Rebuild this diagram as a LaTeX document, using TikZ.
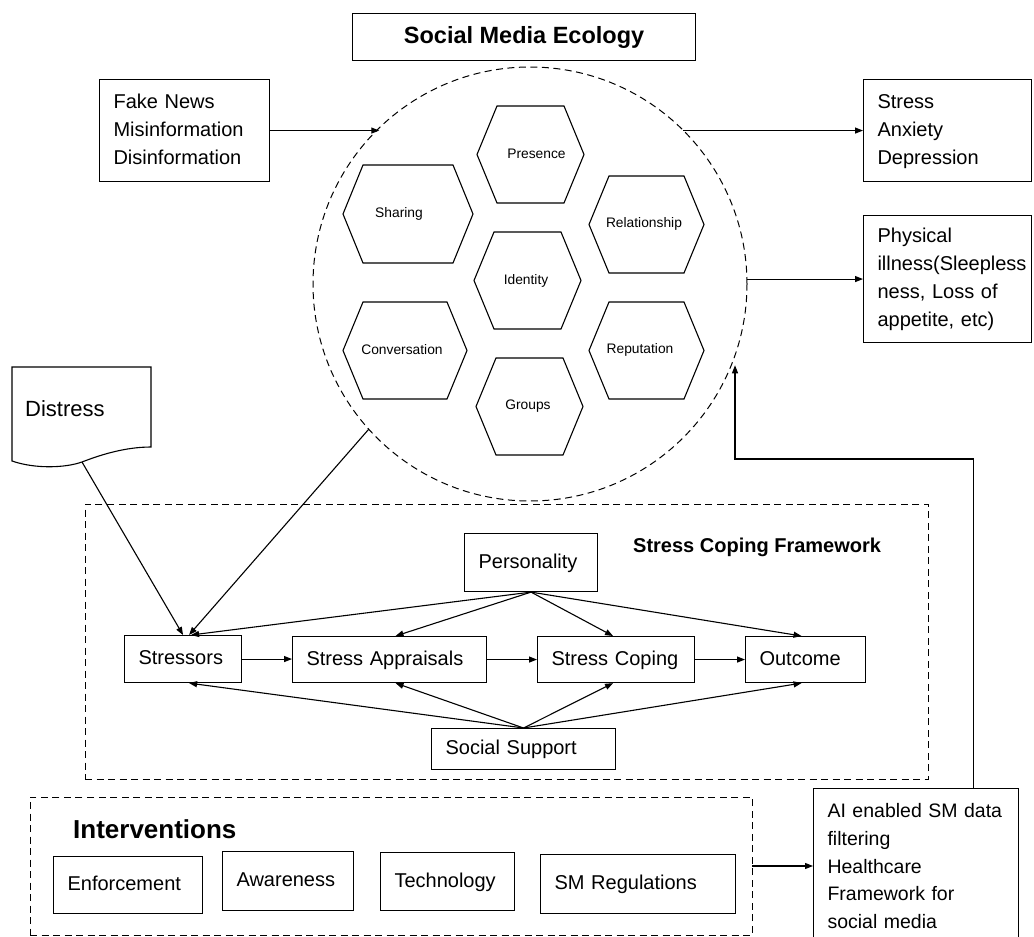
\documentclass[tikz,border=0pt]{standalone}
\usepackage{fontspec}
\setmainfont{Liberation Sans}
\usetikzlibrary{arrows.meta,calc}

% one left-aligned line per row, never broken
\newcommand\stack[1]{\noindent\begin{tabular}{@{}l@{}}#1\end{tabular}}

\tikzset{
  thin line/.style={line width=1.1pt, draw=black},
  arr/.style={line width=1.1pt, draw=black, -{Triangle[length=8pt,width=6pt]}},
  dashline/.style={line width=1pt, dash pattern=on 7pt off 4.5pt},
  boxst/.style={draw, line width=1.1pt, rectangle, inner xsep=14pt, inner ysep=0pt,
    align=left, font=\fontsize{20}{28}\selectfont, anchor=north west},
  frame/.style={draw, dashline, rectangle, inner sep=0pt, outer sep=0pt, anchor=north west},
  hexline/.style={line width=1.1pt, draw=black, line join=miter},
  hexlabel/.style={inner sep=0pt, font=\fontsize{13.8}{16}\selectfont,
    text height=0.72em, text depth=0.2em},
}

% box node: name, x, y, width, height, text width, lines
\newcommand\boxnode[7]{%
  \node[boxst, minimum width=#4pt, minimum height=#5pt, text width=#6pt] (#1) at (#2,#3) {\stack{#7}};}

% hexagon cell: name, cx, cy, half width, half height, label x, label y, label
\newcommand\hexcell[8]{%
  \draw[hexline] (#2-#4,#3) -- (#2-#4+20,#3-#5) -- (#2+#4-20,#3-#5) -- (#2+#4,#3)
    -- (#2+#4-20,#3+#5) -- (#2-#4+20,#3+#5) -- cycle;
  \node[hexlabel] (#1) at (#6,#7) {#8};}

\begin{document}
\begin{tikzpicture}[x=1pt,y=-1pt]
\useasboundingbox (0,0) rectangle (1034,937);
\clip (0,0) rectangle (1034,937);

% title
\node[draw, line width=1.1pt, minimum width=343pt, minimum height=47pt, anchor=north west,
      inner sep=0pt, font=\bfseries\fontsize{23.5}{28}\selectfont] (title) at (352,13) {Social Media Ecology};

% social media ecology circle with its honeycomb
\node[draw, dashline, circle, minimum size=434pt, inner sep=0pt, outer sep=0pt] (eco) at (530,284) {};
\hexcell{presence}{530.5}{154.5}{53.5}{48.5}{536.5}{156}{Presence}
\hexcell{sharing}{408}{214}{65}{49}{399}{215}{Sharing}
\hexcell{relationship}{646.5}{224.5}{57.5}{48.5}{644}{225}{Relationship}
\hexcell{identity}{527.5}{280.5}{53.5}{48.5}{526}{282}{Identity}
\hexcell{conversation}{405}{350.5}{62}{48.5}{402}{352}{Conversation}
\hexcell{reputation}{646.5}{350.5}{57.5}{48.5}{640}{351}{Reputation}
\hexcell{groups}{529.5}{406.5}{53.5}{48.5}{528}{407}{Groups}

% inputs and outputs of the ecology
\boxnode{fake}{99}{79}{170}{102}{142}{Fake News\\Misinformation\\Disinformation}
\boxnode{mental}{863}{79}{168}{102}{140}{Stress\\Anxiety\\Depression}
\boxnode{phys}{863}{215}{168}{127}{140}{Physical\\illness(Sleepless\\ness, Loss of\\appetite, etc)}

\draw[arr] (fake.east) -- (fake.east -| eco.134.5);
\draw[arr] (eco.45.5 |- mental.west) -- (mental.west);
\draw[arr] (eco.1.45 |- phys.west) -- (phys.west);

% distress document shape
\draw[thin line] (12,367) -- (151,367) -- (151,447)
  .. controls (125,447) and (100,455) .. (82,462)
  .. controls (65,468) and (35,469) .. (12,461) -- cycle;
\coordinate (distip) at (82,462);
\node[anchor=base west, inner sep=0pt, font=\fontsize{22}{26}\selectfont] (distress) at (25,416) {Distress};

% stress coping framework
\node[frame, minimum width=843pt, minimum height=275pt] (scf) at (85,504) {};
\node[anchor=base west, inner sep=0pt, font=\bfseries\fontsize{20}{24}\selectfont] (scflabel) at (633,552) {Stress Coping Framework};

\boxnode{pers}{464}{533}{133}{58}{105}{Personality}
\boxnode{stressors}{124}{635}{117}{47}{89}{Stressors}
\boxnode{apprais}{292}{636}{194}{46}{166}{Stress Appraisals}
\boxnode{coping}{537}{636}{157}{46}{129}{Stress Coping}
\boxnode{outcome}{745}{636}{120}{46}{92}{Outcome}
\boxnode{support}{431}{728}{184}{41}{156}{Social Support}

\draw[arr] (distip) -- (stressors.north);
\draw[arr] (eco.222.5) -- ([xshift=6pt]stressors.north);
\draw[arr] (pers.south) -- ([xshift=8pt]stressors.north);
\draw[arr] (pers.south) -- ([xshift=6pt]apprais.north);
\draw[arr] (pers.south) -- ([xshift=-3pt]coping.north);
\draw[arr] (pers.south) -- ([xshift=-4pt]outcome.north);

\draw[arr] (stressors.east) -- (stressors.east -| apprais.west);
\draw[arr] (apprais.east) -- (coping.west);
\draw[arr] (coping.east) -- (outcome.west);

\draw[arr] (support.north) -- ([xshift=6pt]stressors.south);
\draw[arr] (support.north) -- ([xshift=6pt]apprais.south);
\draw[arr] (support.north) -- ([xshift=-3pt]coping.south);
\draw[arr] (support.north) -- ([xshift=-4pt]outcome.south);

% interventions
\node[frame, minimum width=722pt, minimum height=138pt] (interv) at (30,797) {};
\node[anchor=base west, inner sep=0pt, font=\bfseries\fontsize{26}{30}\selectfont] (intlabel) at (73,838) {Interventions};

\boxnode{enforce}{53}{856}{149}{57}{121}{Enforcement}
\boxnode{aware}{222}{851}{131}{59}{103}{Awareness}
\boxnode{tech}{380}{852}{134}{58}{106}{Technology}
\boxnode{smreg}{540}{854}{195}{59}{167}{SM Regulations}

\node[boxst, font=\fontsize{19.5}{27.75}\selectfont, minimum width=205pt, minimum height=158pt, text width=177pt]
  (ai) at (813,788) {\stack{AI enabled SM data\\filtering\\Healthcare\\Framework for\\social media}};

\draw[arr] (interv.east) -- (interv.east -| ai.west);

% feedback from the AI box back into the ecology
\coordinate (aitap) at ([xshift=57.5pt]ai.north);
\coordinate (turn) at (735,459);
\draw[arr] (aitap) |- (turn) -- (turn |- eco.-22);
\end{tikzpicture}
\end{document}
